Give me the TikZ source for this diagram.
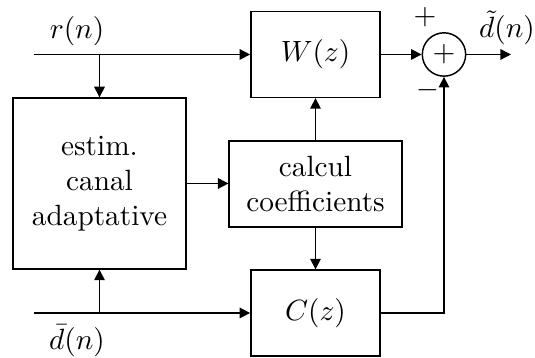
\documentclass[tikz,border=0pt]{standalone}
\usepackage{amsmath}
\usetikzlibrary{arrows.meta, positioning, calc}
\tikzset{
  blk/.style={rectangle, draw=black, line width=0.5pt, align=center,
              minimum width=1.55cm, minimum height=1.03cm, inner sep=2pt},
  bigblk/.style={blk, minimum width=2.08cm, minimum height=2.05cm},
  calcblk/.style={blk, minimum width=2.07cm, minimum height=1.03cm},
  sumnode/.style={circle, draw=black, line width=0.5pt, minimum size=0.52cm, inner sep=0pt},
  sig/.style={-{Triangle[length=3.6pt, width=3.6pt]}, line width=0.5pt},
  lbl/.style={inner sep=0pt},
}

\begin{document}
\begin{tikzpicture}[x=0.012cm, y=-0.012cm]
\useasboundingbox (0,0) rectangle (535,358);

% Blocks
\node[blk] (W) at (315.5,54.5) {$W(z)$};
\node[blk] (C) at (315.5,313) {$C(z)$};
\node[bigblk] (estim) at (99.5,183.5) {estim.\\canal\\adaptative};
\node[calcblk] (calc) at (315.5,184) {calcul\\coefficients};
\node[sumnode] (sum) at (444,54.5) {$+$};

% Inputs and output
\coordinate (rin) at (34,54.5);
\coordinate (din) at (34,313);
\coordinate (dout) at (511,54.5);

% Labels
\node[lbl] (rlabel) at (77,31) {$r(n)$};
\node[lbl] (dlabel) at (77,341) {$\bar{d}(n)$};
\node[lbl] (outlabel) at (507,28) {$\tilde{d}(n)$};
\node[lbl] (plus) at (425,17) {$+$};
\node[lbl] (minus) at (428,90) {$-$};

% Flow
\draw[sig] (rin) -- (W.west);
\draw[sig] (rin -| estim) -- (estim.north);
\draw[sig] (din) -- (C.west);
\draw[sig] (din -| estim) -- (estim.south);
\draw[sig] (estim.east) -- (calc.west |- estim.east);
\draw[sig] (calc.north) -- (W.south);
\draw[sig] (calc.south) -- (C.north);
\draw[sig] (W.east) -- (sum.west);
\draw[sig] (C.east) -| (sum.south);
\draw[sig] (sum.east) -- (dout);

\end{tikzpicture}
\end{document}
